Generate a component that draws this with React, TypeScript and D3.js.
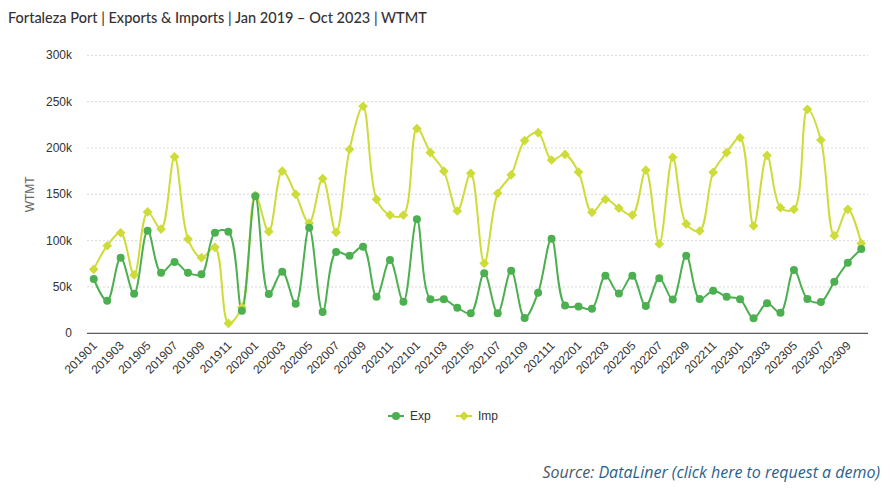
import React from "react";
import * as d3 from "d3";

const months: string[] = [
  "201901","201902","201903","201904","201905","201906","201907","201908","201909","201910","201911","201912",
  "202001","202002","202003","202004","202005","202006","202007","202008","202009","202010","202011","202012",
  "202101","202102","202103","202104","202105","202106","202107","202108","202109","202110","202111","202112",
  "202201","202202","202203","202204","202205","202206","202207","202208","202209","202210","202211","202212",
  "202301","202302","202303","202304","202305","202306","202307","202308","202309","202310",
];

const expValues: number[] = [
  58600, 35000, 81600, 42700, 110700, 65400, 77000, 65400, 63600, 108500, 109700, 24400,
  148000, 42500, 66500, 32000, 114000, 23000, 87700, 83800, 93500, 39500, 79000, 34000,
  123000, 36700, 36700, 27600, 21600, 64700, 21600, 67500, 16500, 43800, 102000, 30000,
  28800, 26600, 62000, 43000, 62000, 29500, 59500, 36400, 83800, 37000, 46000, 39500,
  36700, 16200, 32400, 22300, 68300, 37000, 33800, 55700, 76200, 91000,
];

const impValues: number[] = [
  69000, 94500, 108500, 63000, 131000, 112500, 190500, 101700, 81600, 92800, 10800, 28000,
  149000, 109700, 175000, 150000, 119000, 167000, 109000, 198500, 245000, 144600, 127600, 127600,
  221000, 195000, 175000, 132000, 172600, 75500, 151000, 171000, 208000, 216500, 187000, 193000,
  174000, 130500, 144600, 135000, 127600, 176000, 96400, 190000, 118000, 110400, 173700, 195000,
  211000, 116000, 192000, 135600, 133800, 241700, 208600, 105300, 133800, 97000,
];

const yTicks: number[] = [0, 50000, 100000, 150000, 200000, 250000, 300000];
const seriesNames: string[] = ["Exp", "Imp"];
const seriesColors: string[] = ["#4caf50", "#cddc39"];

const W = 891;
const H = 489;
const plotLeft = 87;
const plotRight = 868;
const plotTop = 55.3;
const plotBottom = 333.3;

export default function App() {
  const x = d3.scaleBand<string>().domain(months).range([plotLeft, plotRight]);
  const cx = (m: string) => (x(m) as number) + x.bandwidth() / 2;
  const y = d3.scaleLinear().domain([0, 300000]).range([plotBottom, plotTop]);
  const line = d3
    .line<number>()
    .x((_, i) => cx(months[i]))
    .y((d) => y(d))
    .curve(d3.curveCatmullRom.alpha(0.5));
  const diamond = d3.symbol().type(d3.symbolDiamond2).size(60);
  const tickLabels = months.filter((_, i) => i % 2 === 0);
  const axisFont = "'Liberation Sans', Arial, sans-serif";
  const titleFont = "Lato, 'Open Sans', sans-serif";

  return (
    <div style={{ position: "absolute", left: 0, top: 0 }}>
      <svg width={W} height={H} style={{ display: "block", background: "#fff" }}>
        <text x={8} y={23} fontFamily={titleFont} fontSize={14.5} fill="#333" fontWeight={500}>
          Fortaleza Port | Exports &amp; Imports | Jan 2019 – Oct 2023 | WTMT
        </text>
        {yTicks.map((t) => (
          <g key={t}>
            {t > 0 && (
              <line x1={plotLeft} x2={plotRight} y1={y(t)} y2={y(t)} stroke="#d8d8d8" strokeDasharray="2,2" strokeWidth={1} />
            )}
            <text x={72} y={y(t) + 4} textAnchor="end" fontFamily={axisFont} fontSize={12} fill="#333">
              {t === 0 ? "0" : `${t / 1000}k`}
            </text>
          </g>
        ))}
        <line x1={plotLeft} x2={plotRight} y1={plotBottom} y2={plotBottom} stroke="#333" strokeWidth={1} />
        <text
          transform={`translate(34,${(plotTop + plotBottom) / 2}) rotate(-90)`}
          textAnchor="middle"
          fontFamily={axisFont}
          fontSize={12}
          fill="#666"
        >
          WTMT
        </text>
        {tickLabels.map((m) => (
          <text
            key={m}
            transform={`translate(${cx(m) + 4},${plotBottom + 13}) rotate(-45)`}
            textAnchor="end"
            fontFamily={axisFont}
            fontSize={12}
            fill="#333"
          >
            {m}
          </text>
        ))}
        <path d={line(impValues) || ""} fill="none" stroke={seriesColors[1]} strokeWidth={2} />
        <path d={line(expValues) || ""} fill="none" stroke={seriesColors[0]} strokeWidth={2} />
        {impValues.map((v, i) => (
          <path key={"i" + i} d={diamond() || ""} transform={`translate(${cx(months[i])},${y(v)})`} fill={seriesColors[1]} />
        ))}
        {expValues.map((v, i) => (
          <circle key={"e" + i} cx={cx(months[i])} cy={y(v)} r={4} fill={seriesColors[0]} />
        ))}
        <g transform="translate(388,416)">
          <line x1={0} x2={16} y1={0} y2={0} stroke={seriesColors[0]} strokeWidth={2} />
          <circle cx={8} cy={0} r={4} fill={seriesColors[0]} />
          <text x={22} y={4} fontFamily={axisFont} fontSize={12} fill="#333">{seriesNames[0]}</text>
        </g>
        <g transform="translate(456,416)">
          <line x1={0} x2={16} y1={0} y2={0} stroke={seriesColors[1]} strokeWidth={2} />
          <path d={diamond() || ""} transform="translate(8,0)" fill={seriesColors[1]} />
          <text x={22} y={4} fontFamily={axisFont} fontSize={12} fill="#333">{seriesNames[1]}</text>
        </g>
        <text x={880} y={478} textAnchor="end" fontFamily="'Open Sans', sans-serif" fontSize={16} fontStyle="italic">
          <tspan fill="#4a5866">Source: </tspan>
          <tspan fill="#2d5f8b">DataLiner (click here to request a demo)</tspan>
        </text>
      </svg>
    </div>
  );
}
